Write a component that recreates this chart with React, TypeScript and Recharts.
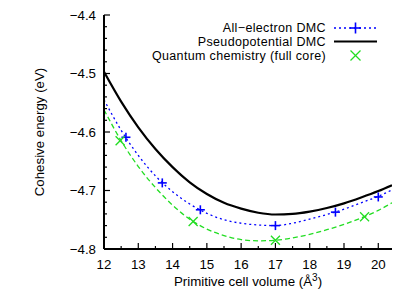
import React from "react";
import { ComposedChart, Line, Scatter, XAxis, YAxis, Legend } from "recharts";

// Fit-curve sample volumes (Å^3)
const curveVolumes = [12, 12.5, 13, 13.5, 14, 14.5, 15, 15.5, 16, 16.5, 17, 17.5, 18, 18.5, 19, 19.5, 20, 20.4];
// Pseudopotential DMC curve (eV)
const pseudoDMC = [-4.497, -4.548, -4.592, -4.629, -4.66, -4.686, -4.706, -4.721, -4.731, -4.738, -4.741, -4.74, -4.736, -4.73, -4.722, -4.712, -4.701, -4.691];
// All-electron DMC fit curve (eV)
const allElectronFit = [-4.545, -4.597, -4.64, -4.675, -4.702, -4.723, -4.739, -4.75, -4.756, -4.759, -4.76, -4.756, -4.749, -4.741, -4.732, -4.721, -4.71, -4.699];
// Quantum chemistry fit curve (eV)
const quantumFit = [-4.562, -4.615, -4.659, -4.695, -4.725, -4.749, -4.766, -4.777, -4.784, -4.786, -4.785, -4.781, -4.775, -4.767, -4.758, -4.747, -4.734, -4.721];

// All-electron DMC data points
const aeVolumes = [12.64, 13.7, 14.81, 17.0, 18.75, 20.0];
const aeEnergies = [-4.609, -4.687, -4.733, -4.76, -4.737, -4.711];
// Quantum chemistry data points
const qcVolumes = [12.47, 14.6, 17.0, 19.6];
const qcEnergies = [-4.615, -4.753, -4.785, -4.745];

// Ticks
const xMajorTicks = [12, 13, 14, 15, 16, 17, 18, 19, 20];
const xMinorTicks = [12.5, 13.5, 14.5, 15.5, 16.5, 17.5, 18.5, 19.5];
const yMajorTicks = [-4.8, -4.7, -4.6, -4.5, -4.4];
const yMinorTicks = [-4.78, -4.76, -4.74, -4.72, -4.68, -4.66, -4.64, -4.62, -4.58, -4.56, -4.54, -4.52, -4.48, -4.46, -4.44, -4.42];

const xDomain = [12, 20.4];
const yDomain = [-4.8, -4.4];

const legendLabels = ["All\u2212electron DMC", "Pseudopotential DMC", "Quantum chemistry (full core)"];

const FONT = "'Liberation Sans', Arial, Helvetica, sans-serif";
const FS = 13.3;
const LEG_FS = 12.5;
const BLUE = "#0000ff";
const GREEN = "#22dd22";

const toPairs = (xs: number[], ys: number[]) => xs.map((x, i) => ({ x, y: ys[i] }));
const pseudoData = toPairs(curveVolumes, pseudoDMC);
const aeFitData = toPairs(curveVolumes, allElectronFit);
const qcFitData = toPairs(curveVolumes, quantumFit);
const aePoints = toPairs(aeVolumes, aeEnergies);
const qcPoints = toPairs(qcVolumes, qcEnergies);

const isMajor = (v: number, majors: number[]) => majors.some((m) => Math.abs(m - v) < 1e-6);
const fmtMinus = (v: number) => (v < 0 ? "\u2212" + Math.abs(v).toFixed(1) : v.toFixed(1));

const BottomTick = (props: any) => {
  const { x, y, payload } = props;
  const major = isMajor(payload.value, xMajorTicks);
  return (
    <g>
      <line x1={x} x2={x} y1={y} y2={y - (major ? 6 : 3)} stroke="#000" strokeWidth={1.2} />
      {major && (
        <text x={x} y={y + 19.5} textAnchor="middle" fontFamily={FONT} fontSize={FS} fill="#000">
          {payload.value}
        </text>
      )}
    </g>
  );
};

const TopTick = (props: any) => {
  const { x, y, payload } = props;
  const major = isMajor(payload.value, xMajorTicks);
  return <line x1={x} x2={x} y1={y} y2={y + (major ? 6 : 3)} stroke="#000" strokeWidth={1.2} />;
};

const LeftTick = (props: any) => {
  const { x, y, payload } = props;
  const major = isMajor(payload.value, yMajorTicks);
  return (
    <g>
      <line x1={x} x2={x + (major ? 6 : 3)} y1={y} y2={y} stroke="#000" strokeWidth={1.2} />
      {major && (
        <text x={x - 8} y={y + 4.7} textAnchor="end" fontFamily={FONT} fontSize={FS} fill="#000">
          {fmtMinus(payload.value)}
        </text>
      )}
    </g>
  );
};

const RightTick = (props: any) => {
  const { x, y, payload } = props;
  const major = isMajor(payload.value, yMajorTicks);
  return <line x1={x} x2={x - (major ? 6 : 3)} y1={y} y2={y} stroke="#000" strokeWidth={1.2} />;
};

const Plus = ({ cx, cy, r = 5 }: any) => (
  <g>
    <line x1={cx - r} x2={cx + r} y1={cy} y2={cy} stroke={BLUE} strokeWidth={1.6} />
    <line x1={cx} x2={cx} y1={cy - r} y2={cy + r} stroke={BLUE} strokeWidth={1.6} />
  </g>
);

const Cross = ({ cx, cy, r = 4.5 }: any) => (
  <g>
    <line x1={cx - r} x2={cx + r} y1={cy - r} y2={cy + r} stroke={GREEN} strokeWidth={1.3} />
    <line x1={cx - r} x2={cx + r} y1={cy + r} y2={cy - r} stroke={GREEN} strokeWidth={1.3} />
  </g>
);

const legendTextProps = {
  textAnchor: "end" as const,
  fontFamily: FONT,
  fontSize: LEG_FS,
  letterSpacing: 0.35,
  fill: "#000",
};

const LegendContent = () => (
  <svg width={415} height={70} style={{ display: "block" }}>
    <text x={326} y={31.5} {...legendTextProps}>{legendLabels[0]}</text>
    <line x1={334} x2={377} y1={28} y2={28} stroke={BLUE} strokeWidth={1.3} strokeDasharray="2 3" />
    <Plus cx={355.5} cy={28} r={5.5} />
    <text x={326} y={45.5} {...legendTextProps}>{legendLabels[1]}</text>
    <line x1={334} x2={377} y1={41.5} y2={41.5} stroke="#000" strokeWidth={2.2} />
    <text x={326} y={59.5} {...legendTextProps}>{legendLabels[2]}</text>
    <Cross cx={355.5} cy={55.5} r={5} />
  </svg>
);

export default function App() {
  return (
    <div style={{ position: "absolute", left: 0, top: 0, width: 415, height: 290, background: "#fff" }}>
      <ComposedChart width={415} height={290} margin={{ top: 15, right: 23, bottom: 0, left: 0 }}>
        <XAxis
          xAxisId="bottom"
          dataKey="x"
          type="number"
          domain={xDomain}
          allowDataOverflow
          ticks={[...xMajorTicks, ...xMinorTicks]}
          interval={0}
          tickSize={0}
          tickMargin={0}
          height={41}
          tick={<BottomTick />}
          axisLine={{ stroke: "#000", strokeWidth: 2 }}
          tickLine={false}
          label={{
            content: (p: any) => {
              const vb = p.viewBox;
              return (
                <text x={vb.x + vb.width / 2} y={vb.y + 37} textAnchor="middle" fontFamily={FONT} fontSize={FS} fill="#000">
                  Primitive cell volume (Å<tspan dy={-5} fontSize={10}>3</tspan>
                  <tspan dy={5}>)</tspan>
                </text>
              );
            },
          }}
        />
        <XAxis
          xAxisId="top"
          orientation="top"
          dataKey="x"
          type="number"
          domain={xDomain}
          allowDataOverflow
          ticks={[...xMajorTicks, ...xMinorTicks]}
          interval={0}
          tickSize={0}
          tickMargin={0}
          height={0}
          tick={<TopTick />}
          axisLine={{ stroke: "#000", strokeWidth: 2 }}
          tickLine={false}
        />
        <YAxis
          yAxisId="left"
          dataKey="y"
          type="number"
          domain={yDomain}
          allowDataOverflow
          ticks={[...yMajorTicks, ...yMinorTicks]}
          interval={0}
          tickSize={0}
          tickMargin={0}
          width={104}
          tick={<LeftTick />}
          axisLine={{ stroke: "#000", strokeWidth: 2 }}
          tickLine={false}
          label={{
            content: (p: any) => {
              const vb = p.viewBox;
              const cx = 44;
              const cy = vb.y + vb.height / 2;
              return (
                <text x={cx} y={cy} transform={`rotate(-90, ${cx}, ${cy})`} textAnchor="middle" fontFamily={FONT} fontSize={FS} fill="#000">
                  Cohesive energy (eV)
                </text>
              );
            },
          }}
        />
        <YAxis
          yAxisId="right"
          orientation="right"
          dataKey="y"
          type="number"
          domain={yDomain}
          allowDataOverflow
          ticks={[...yMajorTicks, ...yMinorTicks]}
          interval={0}
          tickSize={0}
          tickMargin={0}
          width={0}
          tick={<RightTick />}
          axisLine={{ stroke: "#000", strokeWidth: 2 }}
          tickLine={false}
        />
        <Line
          xAxisId="bottom"
          yAxisId="left"
          data={qcFitData}
          dataKey="y"
          type="monotone"
          stroke={GREEN}
          strokeWidth={1.3}
          strokeDasharray="5 3"
          dot={false}
          activeDot={false}
          isAnimationActive={false}
        />
        <Line
          xAxisId="bottom"
          yAxisId="left"
          data={aeFitData}
          dataKey="y"
          type="monotone"
          stroke={BLUE}
          strokeWidth={1.3}
          strokeDasharray="2 3"
          dot={false}
          activeDot={false}
          isAnimationActive={false}
        />
        <Line
          xAxisId="bottom"
          yAxisId="left"
          data={pseudoData}
          dataKey="y"
          type="monotone"
          stroke="#000"
          strokeWidth={2.2}
          dot={false}
          activeDot={false}
          isAnimationActive={false}
        />
        <Scatter
          xAxisId="bottom"
          yAxisId="left"
          data={aePoints}
          dataKey="y"
          shape={(p: any) => <Plus cx={p.cx} cy={p.cy} r={4.5} />}
          isAnimationActive={false}
        />
        <Scatter
          xAxisId="bottom"
          yAxisId="left"
          data={qcPoints}
          dataKey="y"
          shape={(p: any) => <Cross cx={p.cx} cy={p.cy} r={4.5} />}
          isAnimationActive={false}
        />
        <Legend
          layout="vertical"
          align="center"
          verticalAlign="middle"
          content={<LegendContent />}
          wrapperStyle={{ position: "absolute", left: 0, top: 0, width: 415, height: 70, margin: 0, padding: 0 }}
        />
      </ComposedChart>
    </div>
  );
}
